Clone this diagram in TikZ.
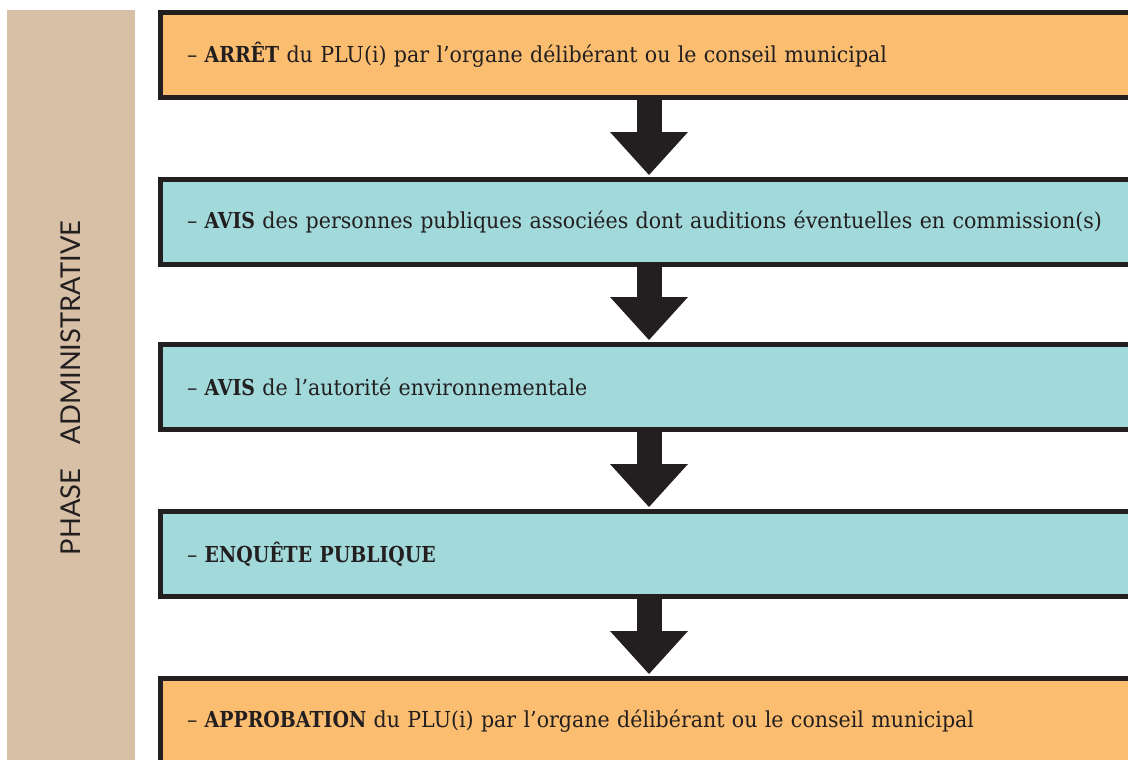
\documentclass[tikz,border=0pt]{standalone}
\usepackage{fontspec}
\setmainfont{DejaVu Serif}[FakeStretch=0.935]
\newfontfamily\bfam{DejaVu Serif Bold}[FakeStretch=0.86]
\newcommand\B[1]{{\bfam #1}}
\newfontfamily\sidefont{Lato}
\usetikzlibrary{arrows.meta}
\definecolor{orangebox}{HTML}{FBBD6F}
\definecolor{tealbox}{HTML}{A2D9DA}
\definecolor{tanbar}{HTML}{D7C0A6}
\definecolor{ink}{HTML}{231F20}
\begin{document}
\begin{tikzpicture}[x=0.75pt,y=-0.75pt,
  stage/.style={draw=ink, line width=3.75pt, anchor=north west, outer sep=0pt,
    minimum height=63.75pt, inner xsep=19.875pt, inner ysep=0pt,
    text=ink, text width=740pt, align=left,
    font=\fontsize{16.5}{18}\selectfont},
  orangestage/.style={stage, fill=orangebox},
  tealstage/.style={stage, fill=tealbox},
  bigarrow/.style={draw=ink, line width=18.75pt,
    -{Triangle[width=58.5pt,length=32.25pt,line width=0pt]}, shorten >=3.375pt},
  sidebar/.style={fill=tanbar, rotate=90, minimum width=567pt, minimum height=96pt,
    inner sep=0pt, text=ink, font=\sidefont\fontsize{20.5}{22}\selectfont}
]
\useasboundingbox (0,0) rectangle (1128,760);
\clip (0,0) rectangle (1128,760);
\node[sidebar] (side) at (71,388) {PHASE\hspace{0.9em}ADMINISTRATIVE};
\node[orangestage] (b1) at (160.5,12.5) {– \B{ARRÊT} du PLU(i) par l’organe délibérant ou le conseil municipal};
\node[tealstage] (b2) at (160.5,179.5) {– \B{AVIS} des personnes publiques associées dont auditions éventuelles en commission(s)};
\node[tealstage] (b3) at (160.5,344.5) {– \B{AVIS} de l’autorité environnementale};
\node[tealstage] (b4) at (160.5,511.5) {– \B{ENQUÊTE PUBLIQUE}};
\node[orangestage] (b5) at (160.5,678.5) {– \B{APPROBATION} du PLU(i) par l’organe délibérant ou le conseil municipal};
\coordinate (ax) at (649,0);
\draw[bigarrow] (b1.south -| ax) -- (b2.north -| ax);
\draw[bigarrow] (b2.south -| ax) -- (b3.north -| ax);
\draw[bigarrow] (b3.south -| ax) -- (b4.north -| ax);
\draw[bigarrow] (b4.south -| ax) -- (b5.north -| ax);
\end{tikzpicture}
\end{document}
